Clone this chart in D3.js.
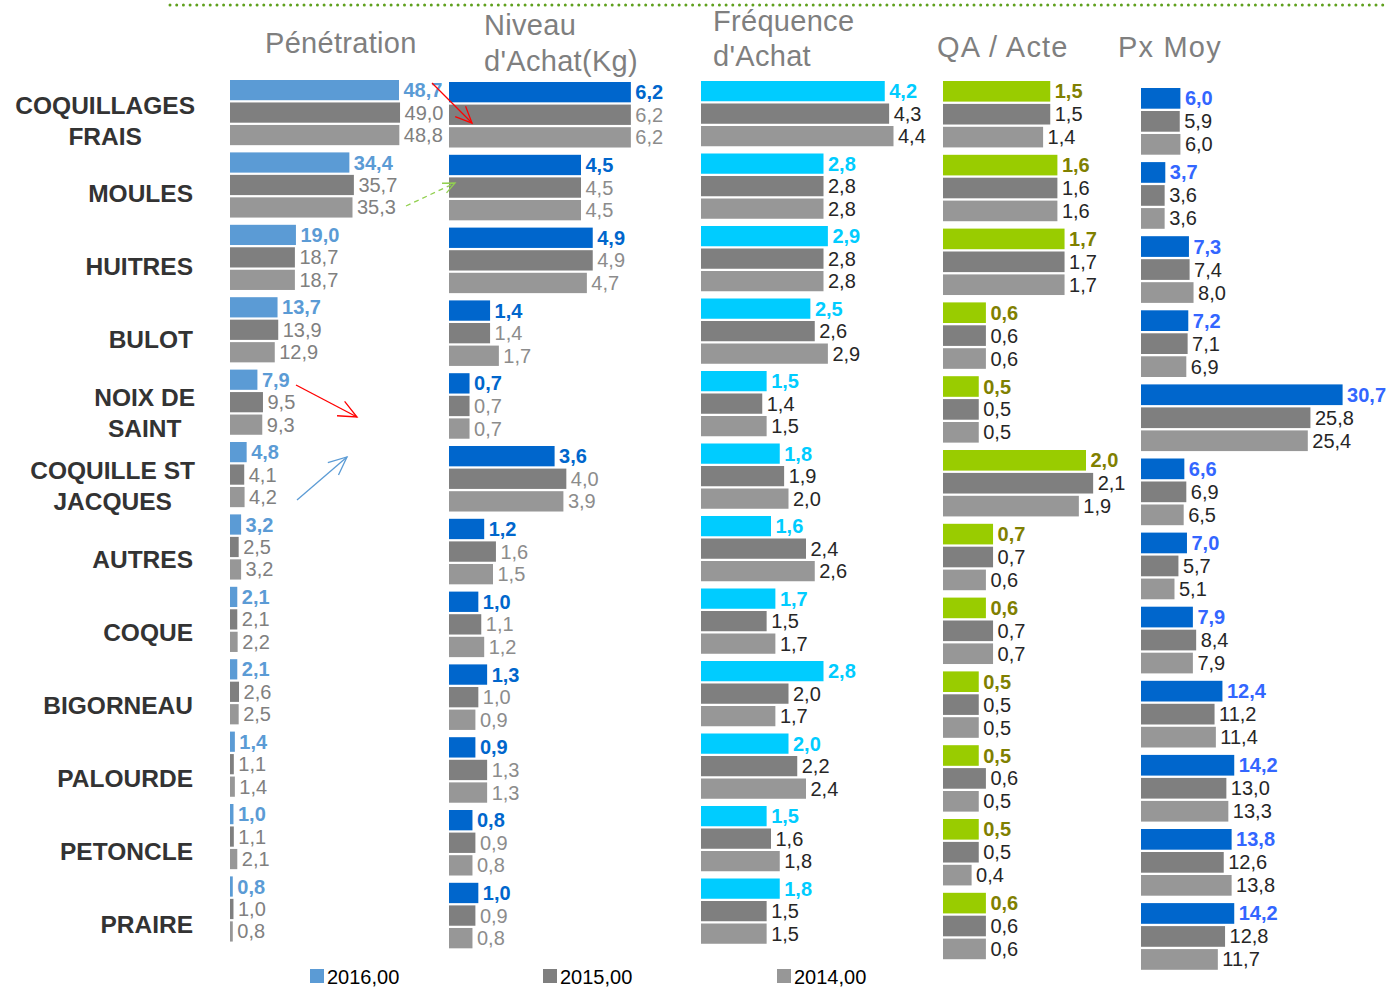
<!DOCTYPE html>
<html><head><meta charset="utf-8">
<script src="https://cdn.jsdelivr.net/npm/d3@7/dist/d3.min.js"></script>
<style>
body{margin:0;background:#fff;}
svg{display:block;font-family:"Liberation Sans",Arial,sans-serif;}
</style>
</head><body><svg id="chart" width="1389" height="987"></svg>
<script>
// ---------------- DATA ----------------
const categories = ["COQUILLAGES\nFRAIS","MOULES","HUITRES","BULOT","NOIX DE\nSAINT","COQUILLE ST\nJACQUES","AUTRES","COQUE","BIGORNEAU","PALOURDE","PETONCLE","PRAIRE"];
const years = ["2016,00","2015,00","2014,00"];
const titles = [["Pénétration"],["Niveau","d'Achat(Kg)"],["Fréquence","d'Achat"],["QA / Acte"],["Px Moy"]];

const penetration2016 = [48.7,34.4,19.0,13.7,7.9,4.8,3.2,2.1,2.1,1.4,1.0,0.8];
const penetration2015 = [49.0,35.7,18.7,13.9,9.5,4.1,2.5,2.1,2.6,1.1,1.1,1.0];
const penetration2014 = [48.8,35.3,18.7,12.9,9.3,4.2,3.2,2.2,2.5,1.4,2.1,0.8];

const niveau2016 = [6.2,4.5,4.9,1.4,0.7,3.6,1.2,1.0,1.3,0.9,0.8,1.0];
const niveau2015 = [6.2,4.5,4.9,1.4,0.7,4.0,1.6,1.1,1.0,1.3,0.9,0.9];
const niveau2014 = [6.2,4.5,4.7,1.7,0.7,3.9,1.5,1.2,0.9,1.3,0.8,0.8];

const frequence2016 = [4.2,2.8,2.9,2.5,1.5,1.8,1.6,1.7,2.8,2.0,1.5,1.8];
const frequence2015 = [4.3,2.8,2.8,2.6,1.4,1.9,2.4,1.5,2.0,2.2,1.6,1.5];
const frequence2014 = [4.4,2.8,2.8,2.9,1.5,2.0,2.6,1.7,1.7,2.4,1.8,1.5];

const qaActe2016 = [1.5,1.6,1.7,0.6,0.5,2.0,0.7,0.6,0.5,0.5,0.5,0.6];
const qaActe2015 = [1.5,1.6,1.7,0.6,0.5,2.1,0.7,0.7,0.5,0.6,0.5,0.6];
const qaActe2014 = [1.4,1.6,1.7,0.6,0.5,1.9,0.6,0.7,0.5,0.5,0.4,0.6];

const pxMoy2016 = [6.0,3.7,7.3,7.2,30.7,6.6,7.0,7.9,12.4,14.2,13.8,14.2];
const pxMoy2015 = [5.9,3.6,7.4,7.1,25.8,6.9,5.7,8.4,11.2,13.0,12.6,12.8];
const pxMoy2014 = [6.0,3.6,8.0,6.9,25.4,6.5,5.1,7.9,11.4,13.3,13.8,11.7];

// ---------------- LAYOUT ----------------
const svg = d3.select("#chart");
const fmt = v => d3.format(".1f")(v).replace(".", ",");

const grey2015 = "#7f7f7f", grey2014 = "#979797";

const panels = [
  {series:[penetration2016,penetration2015,penetration2014], title:titles[0], tx:265, ty:[53], ls:0.3,
   x0:230, max:50, width:173.5, top:80, pitch:72.4,
   c16:"#5b9bd5", l16:"#5b9bd5", lOther:"#808080"},
  {series:[niveau2016,niveau2015,niveau2014], title:titles[1], tx:484, ty:[35,71], ls:0.3,
   x0:449, max:6, width:176, top:82, pitch:72.8,
   c16:"#0066cc", l16:"#0066cc", lOther:"#8c8c8c"},
  {series:[frequence2016,frequence2015,frequence2014], title:titles[2], tx:713, ty:[31,66], ls:0.3,
   x0:701, max:4, width:175, top:81, pitch:72.5,
   c16:"#00ccff", l16:"#00ccff", lOther:"#262626"},
  {series:[qaActe2016,qaActe2015,qaActe2014], title:titles[3], tx:937, ty:[57], ls:1.2,
   x0:943, max:2, width:143, top:81, pitch:73.8,
   c16:"#99cc00", l16:"#808000", lOther:"#262626"},
  {series:[pxMoy2016,pxMoy2015,pxMoy2014], title:titles[4], tx:1118, ty:[57], ls:1.2,
   x0:1141, max:30, width:197, top:88, pitch:74.1,
   c16:"#0066cc", l16:"#3366ff", lOther:"#262626"}
];

// dotted header line
svg.append("line").attr("x1",170).attr("x2",1389).attr("y1",5).attr("y2",5)
  .attr("stroke","#5fa01e").attr("stroke-width",3).attr("stroke-linecap","round")
  .attr("stroke-dasharray","0 6.7");

panels.forEach(p => {
  const padO = 0.05, padI = 0.1;
  const y = d3.scaleBand().domain(d3.range(categories.length))
    .range([p.top - p.pitch*padO, p.top - p.pitch*padO + categories.length*p.pitch])
    .paddingInner(padI).paddingOuter(padO);
  const yy = d3.scaleBand().domain(d3.range(3)).range([0, y.bandwidth()]).paddingInner(0.1);
  const x = d3.scaleLinear().domain([0, p.max]).range([p.x0, p.x0 + p.width]);
  const colors = [p.c16, grey2015, grey2014];

  const g = svg.append("g");
  p.title.forEach((t,i) => {
    g.append("text").attr("x", p.tx).attr("y", p.ty[i]).text(t)
      .attr("font-size", 29).attr("letter-spacing", p.ls).attr("fill", "#7f7f7f");
  });

  categories.forEach((c, ci) => {
    p.series.forEach((s, si) => {
      const v = s[ci];
      const by = y(ci) + yy(si);
      g.append("rect").attr("x", x(0)).attr("y", by)
        .attr("width", x(v) - x(0)).attr("height", yy.bandwidth())
        .attr("fill", colors[si]);
      g.append("text").attr("x", x(v) + 4.5).attr("y", by + yy.bandwidth()/2 + 7)
        .text(fmt(v)).attr("font-size", 20)
        .attr("font-weight", si === 0 ? "bold" : "normal")
        .attr("fill", si === 0 ? p.l16 : p.lOther);
    });
  });
});

// category labels
const yl = d3.scaleBand().domain(d3.range(categories.length)).range([84, 84 + categories.length*73.1]);
categories.forEach((c, ci) => {
  const lines = c.split("\n");
  const cy = yl(ci) + yl.bandwidth()/2;
  const t = svg.append("text").attr("font-size", 24.5).attr("font-weight", "bold").attr("fill", "#333333");
  const lh = 31;
  const spans = lines.map((ln, i) => t.append("tspan").text(ln)
      .attr("y", cy - (lines.length-1)*lh/2 + i*lh + 8.5));
  if (lines.length === 1) {
    t.attr("text-anchor","end"); spans[0].attr("x", 193);
  } else {
    const widths = spans.map(s => s.node().getComputedTextLength());
    const mw = d3.max(widths);
    t.attr("text-anchor","middle");
    spans.forEach(s => s.attr("x", 195 - mw/2));
  }
});

// legend
const legendX = [310, 543, 777];
const legendColors = ["#5b9bd5", grey2015, grey2014];
years.forEach((yr, i) => {
  svg.append("rect").attr("x", legendX[i]).attr("y", 969).attr("width", 14).attr("height", 14).attr("fill", legendColors[i]);
  svg.append("text").attr("x", legendX[i] + 17).attr("y", 984).text(yr).attr("font-size", 20).attr("fill", "#000");
});

// annotation arrows
function arrow(x1, y1, x2, y2, color, len, dashed) {
  const a = Math.atan2(y2 - y1, x2 - x1), w = 0.42;
  const g = svg.append("g").attr("stroke", color).attr("stroke-width", 1.3).attr("fill", "none");
  const l = g.append("line").attr("x1", x1).attr("y1", y1).attr("x2", x2).attr("y2", y2);
  if (dashed) l.attr("stroke-dasharray", "5 4");
  g.append("path").attr("d",
    `M${x2 - len*Math.cos(a - w)},${y2 - len*Math.sin(a - w)} L${x2},${y2} L${x2 - len*Math.cos(a + w)},${y2 - len*Math.sin(a + w)}`);
}
arrow(432, 83, 472, 123, "#ff0000", 18, false);
arrow(406, 206, 455, 183, "#92d050", 13, true);
arrow(296, 385, 357, 417, "#ff0000", 20, false);
arrow(297, 500, 347, 457, "#5b9bd5", 20, false);
</script>
</body></html>
